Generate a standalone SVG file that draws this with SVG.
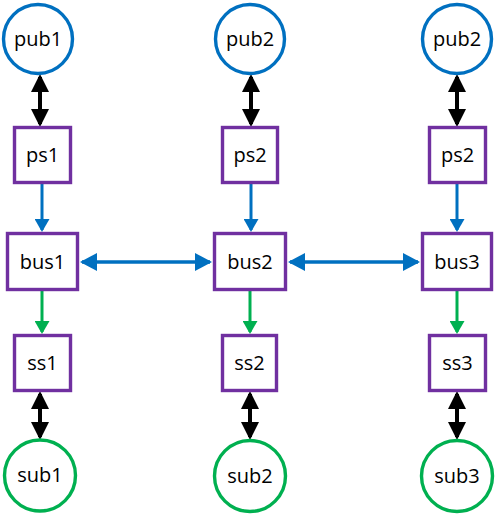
<svg xmlns="http://www.w3.org/2000/svg" width="496" height="514" viewBox="0 0 496 514">
<style>
.pub{fill:#fff;stroke:#0070C0;stroke-width:3.4}
.sub{fill:#fff;stroke:#00B050;stroke-width:3.4}
.box{fill:#fff;stroke:#7030A0;stroke-width:3.4}
text{font-family:"Open Sans","Liberation Sans",Arial,sans-serif;font-size:20px;fill:#000;text-anchor:middle;dominant-baseline:central}
.blk{stroke:#000;stroke-width:4;fill:none}
.blu{stroke:#0070C0;stroke-width:3;fill:none}
.blu2{stroke:#0070C0;stroke-width:3.5;fill:none}
.grn{stroke:#00B050;stroke-width:3;fill:none}
</style>
<defs>
<marker id="ak" markerUnits="userSpaceOnUse" markerWidth="18" markerHeight="18" viewBox="0 0 18 18" refX="15" refY="9" orient="auto-start-reverse"><path d="M0,0 L18,9 L0,18 z" fill="#000"/></marker>
<marker id="ab" markerUnits="userSpaceOnUse" markerWidth="13" markerHeight="15" viewBox="0 0 13 15" refX="11" refY="7.5" orient="auto"><path d="M0,0 L13,7.5 L0,15 z" fill="#0070C0"/></marker>
<marker id="ab2" markerUnits="userSpaceOnUse" markerWidth="17" markerHeight="18" viewBox="0 0 17 18" refX="15" refY="9" orient="auto-start-reverse"><path d="M0,0 L17,9 L0,18 z" fill="#0070C0"/></marker>
<marker id="ag" markerUnits="userSpaceOnUse" markerWidth="13" markerHeight="15" viewBox="0 0 13 15" refX="11" refY="7.5" orient="auto"><path d="M0,0 L13,7.5 L0,15 z" fill="#00B050"/></marker>
</defs>
<g id="connectors">
<line class="blk" x1="40" y1="77" x2="40" y2="124" marker-start="url(#ak)" marker-end="url(#ak)"/>
<line class="blk" x1="251" y1="77" x2="251" y2="124" marker-start="url(#ak)" marker-end="url(#ak)"/>
<line class="blk" x1="457" y1="77" x2="457" y2="124" marker-start="url(#ak)" marker-end="url(#ak)"/>
<line class="blu" x1="42" y1="184" x2="42" y2="230"  marker-end="url(#ab)"/>
<line class="blu" x1="251" y1="184" x2="251" y2="230" marker-end="url(#ab)"/>
<line class="blu" x1="457" y1="184" x2="457" y2="230" marker-end="url(#ab)"/>
<line class="blu2" x1="82" y1="262" x2="210" y2="262" marker-start="url(#ab2)" marker-end="url(#ab2)"/>
<line class="blu2" x1="290" y1="262" x2="418" y2="262" marker-start="url(#ab2)" marker-end="url(#ab2)"/>
<line class="grn" x1="42" y1="291" x2="42" y2="332" marker-end="url(#ag)"/>
<line class="grn" x1="250" y1="291" x2="250" y2="332" marker-end="url(#ag)"/>
<line class="grn" x1="457" y1="291" x2="457" y2="332" marker-end="url(#ag)"/>
<line class="blk" x1="40" y1="394" x2="40" y2="437" marker-start="url(#ak)" marker-end="url(#ak)"/>
<line class="blk" x1="250" y1="394" x2="250" y2="437" marker-start="url(#ak)" marker-end="url(#ak)"/>
<line class="blk" x1="457" y1="394" x2="457" y2="437" marker-start="url(#ak)" marker-end="url(#ak)"/>
</g>
<g id="pub1"><circle class="pub" cx="38" cy="39" r="34.5"/><text x="38" y="38">pub1</text></g>
<g id="pub2a"><circle class="pub" cx="250" cy="39" r="34.5"/><text x="250" y="38">pub2</text></g>
<g id="pub2b"><circle class="pub" cx="457" cy="39" r="34.5"/><text x="457" y="38">pub2</text></g>
<g id="ps1"><rect class="box" x="14.5" y="127.5" width="56" height="55"/><text x="42.5" y="154">ps1</text></g>
<g id="ps2a"><rect class="box" x="222.5" y="127.5" width="55" height="55"/><text x="250" y="154">ps2</text></g>
<g id="ps2b"><rect class="box" x="429.5" y="127.5" width="56" height="55"/><text x="457.5" y="154">ps2</text></g>
<g id="bus1"><rect class="box" x="7.5" y="233.5" width="70" height="56"/><text x="42.5" y="261">bus1</text></g>
<g id="bus2"><rect class="box" x="214.5" y="233.5" width="71" height="56"/><text x="250" y="261">bus2</text></g>
<g id="bus3"><rect class="box" x="422.5" y="233.5" width="69" height="56"/><text x="457" y="261">bus3</text></g>
<g id="ss1"><rect class="box" x="14.5" y="335.5" width="56" height="55"/><text x="42.5" y="362">ss1</text></g>
<g id="ss2"><rect class="box" x="222.5" y="335.5" width="54" height="55"/><text x="249.5" y="362">ss2</text></g>
<g id="ss3"><rect class="box" x="429.5" y="335.5" width="56" height="55"/><text x="457.5" y="362">ss3</text></g>
<g id="sub1"><circle class="sub" cx="40" cy="475.5" r="35.5"/><text x="40" y="474.5">sub1</text></g>
<g id="sub2"><circle class="sub" cx="250" cy="476" r="35.5"/><text x="250" y="475">sub2</text></g>
<g id="sub3"><circle class="sub" cx="457" cy="476" r="35.5"/><text x="457" y="475">sub3</text></g>
</svg>
